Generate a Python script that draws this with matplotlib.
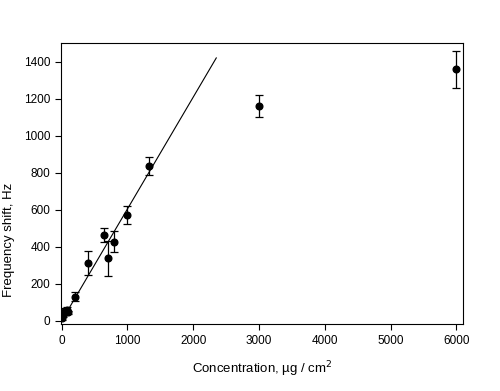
import matplotlib.pyplot as plt
import numpy as np

plt.rcParams["font.family"] = ["Liberation Sans", "DejaVu Sans"]

# measured points: concentration (ug/cm2), frequency shift (Hz), error (Hz)
conc = [10, 25, 50, 75, 100, 200, 400, 650, 700, 800, 1000, 1330, 3000, 6000]
shift = [15, 30, 55, 60, 45, 130, 310, 463, 337, 427, 571, 836, 1160, 1357]
err = [10, 12, 15, 12, 10, 25, 65, 40, 95, 58, 48, 48, 58, 100]

# linear fit over the low-concentration range
fit_x = [0, 2350]
fit_slope = 0.604
fit_icept = 0.0

fig = plt.figure(figsize=(5.0, 3.91), dpi=100)
ax = fig.add_axes([0.122, 0.171, 0.804, 0.719])

fx = np.array(fit_x, dtype=float)
ax.plot(fx, fit_slope * fx + fit_icept, color="black", lw=0.8)
ax.errorbar(conc, shift, yerr=err, fmt="o", color="black", ms=4.8,
            elinewidth=0.9, capsize=3.2, capthick=0.9)

ax.set_xlim(-10, 6100)
ax.set_ylim(-18, 1500)
ax.set_xticks(np.arange(0, 6001, 1000))
ax.set_yticks(np.arange(0, 1401, 200))
ax.tick_params(direction="out", length=4, width=0.8, labelsize=8.5,
               top=False, right=False, colors="black")
for s in ax.spines.values():
    s.set_linewidth(0.8)

ax.set_xlabel("Concentration, µg / cm$^2$", fontsize=9.5, labelpad=9)
ax.set_ylabel("Frequency shift, Hz", fontsize=9.5)
ax.yaxis.set_label_coords(-0.114, 0.30)

fig.savefig("out.png", dpi=100)
